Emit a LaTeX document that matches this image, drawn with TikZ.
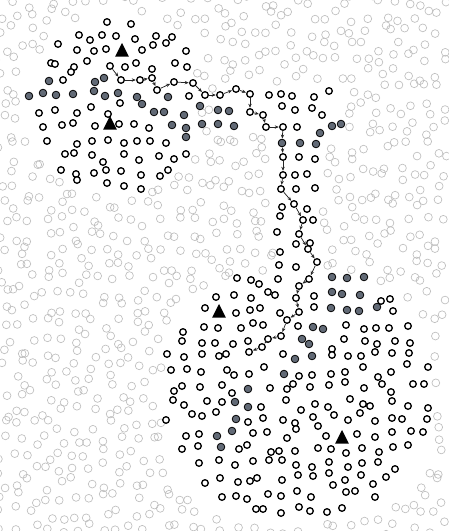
\documentclass[tikz,border=0pt]{standalone}
\usetikzlibrary{arrows.meta}
\definecolor{gfill}{RGB}{98,106,118}
\definecolor{lgray}{RGB}{190,190,190}
\tikzset{
  lg/.style={circle,draw=lgray,line width=0.65pt,minimum size=7.8pt,inner sep=0pt},
  bk/.style={circle,draw=black,fill=white,line width=1.3pt,minimum size=6.6pt,inner sep=0pt},
  gf/.style={circle,draw=black,fill=gfill,line width=0.8pt,minimum size=7.6pt,inner sep=0pt},
  pn/.style={bk},
  hop/.style={draw=black!85,line width=0.75pt,-{Stealth[length=4pt,width=3.4pt]},shorten <=0.3pt,shorten >=0.3pt},
  tri/.style={fill=black}
}
\begin{document}
\begin{tikzpicture}[x=1pt,y=-1pt]
\fill[white] (0,0) rectangle (448,531);
\useasboundingbox (0,0) rectangle (448,531);
% background (light) nodes on a jittered grid, outside the active regions
\pgfmathsetseed{4711}
\foreach \i in {0,...,30}{
  \foreach \j in {0,...,36}{
    \pgfmathsetmacro\gx{\i*14.6+2+rand*6.8}
    \pgfmathsetmacro\gy{\j*14.6+2+rand*6.8}
    \pgfmathsetmacro\ra{(abs(\gx-112)/90)^2+(abs(\gy-106)/90)^2}
    \pgfmathsetmacro\rb{(abs(\gx-165)/42)^2+(abs(\gy-55)/26)^2}
    \pgfmathsetmacro\rc{(abs(\gx-298)/137)^3+(abs(\gy-398)/124)^3}
    \pgfmathtruncatemacro\ins{(\ra<1)||(\rb<1)||(\rc<1)||((\gx>215)&&(\gx<345)&&(\gy>82)&&(\gy<132))||((\gx>270)&&(\gx<324)&&(\gy>130)&&(\gy<200))||((\gx>273)&&(\gx<322)&&(\gy>199)&&(\gy<276))}
    \ifnum\ins=0
      \node[lg] (g-\i-\j) at (\gx,\gy) {};
    \fi
  }
}
% active (black) nodes
\foreach \x/\y [count=\n] in {
107/22,131/24,79/35,90/40,102/35,116/36,135/39,156/36,172/37,166/43,153/45,142/50,58/44,77/50,94/51,106/49,186/51,
51/63,55/64,74/67,71/72,87/61,125/67,136/63,152/69,175/63,187/67,63/80,
91/107,55/110,39/113,77/113,108/114,120/103,189/96,
43/127,62/125,73/123,95/126,119/124,134/124,149/128,
47/141,77/144,92/141,108/140,124/143,137/141,150/141,166/143,
65/154,74/153,92/155,103/162,124/154,139/160,159/156,174/159,186/154,
61/170,76/174,77/180,94/173,106/170,121/171,141/175,160/176,168/170,
107/183,124/186,141/189,
269/95,281/94,292/96,314/97,329/91,282/106,295/110,312/108,322/115,297/127,299/157,315/159,295/175,307/174,296/189,315/188,
280/216,282/207,307/209,313/220,277/232,296/244,310/243,280/252,279/265,296/267,278/279,314/296,314/307,298/326,280/313,
237/278,251/280,259/284,268/292,275/295,216/297,234/295,251/298,205/308,236/313,250/310,260/308,204/327,218/328,241/328,253/323,263/325,
202/343,215/343,233/344,248/341,202/354,219/356,226/354,283/354,332/349,332/355,346/325,344/339,348/356,
381/301,390/299,393/311,183/332,182/341,364/329,376/328,389/328,408/326,365/341,377/344,395/341,410/343,
167/354,184/357,361/356,375/352,392/353,409/353,
171/370,187/369,201/372,227/370,234/375,249/374,264/367,299/376,312/375,331/374,345/372,363/367,378/377,391/372,407/364,428/367,
174/391,182/386,200/387,222/385,232/393,270/388,287/389,293/384,310/387,329/385,345/382,364/388,382/384,391/392,413/384,424/384,
173/400,184/405,207/401,222/402,261/407,286/400,301/410,315/404,328/407,350/399,363/404,370/406,392/401,408/406,428/408,
192/414,202/416,216/412,248/422,263/418,283/420,295/423,296/429,313/417,318/426,334/415,348/420,360/413,375/421,392/418,402/419,427/419,166/420,
186/436,199/434,253/433,267/432,287/438,326/436,357/434,375/437,392/432,411/431,423/432,
182/449,198/446,239/449,247/445,271/452,279/451,295/451,318/448,331/449,346/453,362/448,379/452,393/447,408/445,
199/463,219/460,235/465,253/461,269/460,282/460,296/465,312/467,329/462,348/467,362/463,378/462,395/469,
205/483,220/478,238/482,250/481,257/478,282/480,298/475,313/476,329/473,333/485,345/480,361/475,373/484,386/477,
222/497,236/496,247/499,268/494,281/496,297/491,311/497,346/492,355/491,375/497,
256/509,263/509,281/513,299/507,310/511,327/512,342/508}
  \node[bk] (b\n) at (\x,\y) {};
% grey-filled nodes
\foreach \x/\y [count=\n] in {
49/81,29/96,43/93,56/95,73/94,95/82,104/78,94/91,105/96,118/93,137/97,142/104,154/112,164/112,168/97,172/125,184/115,186/128,186/137,200/106,202/124,218/110,218/124,
229/111,234/126,300/143,316/144,320/133,332/126,341/124,
332/277,347/278,364/277,332/292,342/294,360/295,331/308,347/310,359/311,377/307,313/327,323/329,302/339,309/344,295/359,312/356,284/374,
248/389,235/402,248/407,236/419,232/431,217/436,221/447}
  \node[gf] (f\n) at (\x,\y) {};
% anchors (triangles)
\foreach \x/\y [count=\n] in {122/50,110/123,219/311,342/437}{
  \coordinate (t\n) at (\x,\y);
  \fill[tri] ([shift={(0,-7)}]t\n) -- ([shift={(6.8,6.5)}]t\n) -- ([shift={(-6.8,6.5)}]t\n) -- cycle;
}
% route
\foreach \x/\y [count=\n] in {
110/66,121/80,140/80,152/78,157/90,174/82,193/83,205/95,220/95,236/89,250/94,250/112,263/115,266/127,283/127,282/143,283/157,283/175,281/189,
294/204,303/220,299/234,308/249,317/262,309/279,299/286,296/298,299/312,287/320,281/336,268/339,262/347,249/352}
  \node[pn] (p\n) at (\x,\y) {};
\node[gf] (p16) at (282,143) {};
\foreach \a [evaluate=\a as \b using int(\a+1)] in {1,...,32}
  \draw[hop] (p\a) -- (p\b);
\end{tikzpicture}
\end{document}
